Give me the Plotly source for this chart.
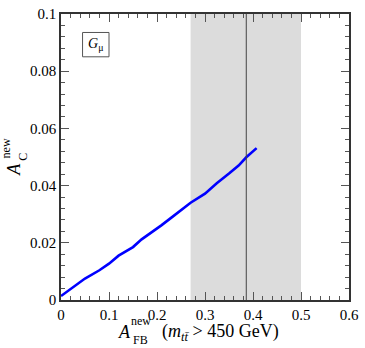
import plotly.graph_objects as go

# curve
afb_new = [0.0, 0.01, 0.03, 0.05, 0.08, 0.10, 0.12, 0.15, 0.168, 0.19, 0.209,
           0.23, 0.25, 0.27, 0.30, 0.3245, 0.35, 0.37, 0.386, 0.40, 0.4075]
ac_new = [0.0014, 0.0026, 0.0050, 0.0075, 0.0104, 0.0127, 0.0155, 0.0185, 0.0212,
          0.0237, 0.0261, 0.0288, 0.0313, 0.0340, 0.0372, 0.0408, 0.0442, 0.0470,
          0.0499, 0.0520, 0.0531]

band = [0.27, 0.50]      # shaded measurement band
central = 0.386          # measured central value

SERIF = "Liberation Serif"

L, R, T, B = 61, 10, 6, 48
W, H = 365, 348
PW, PH = W - L - R, H - T - B


def px(x, y):
    # pixel position -> paper coords
    return (x - L) / PW, (T + PH - y) / PH


fig = go.Figure()
fig.add_trace(go.Scatter(
    x=afb_new, y=ac_new, mode="lines",
    line=dict(color="#0000ff", width=2.6),
    showlegend=False, hoverinfo="skip",
))

fig.add_shape(type="rect", xref="x", yref="paper", x0=band[0], x1=band[1],
              y0=0, y1=1, fillcolor="#dcdcdc", line_width=0, layer="below")
fig.add_shape(type="line", xref="x", yref="paper", x0=central, x1=central,
              y0=0, y1=1, line=dict(color="#444444", width=1))

# label box
bx0, by0 = px(83, 50)
bx1, by1 = px(110, 25)
fig.add_shape(type="rect", xref="paper", yref="paper", x0=bx0, x1=bx1,
              y0=by0, y1=by1, line=dict(color="#555555", width=1),
              fillcolor="white")

ann = []


def add(text, x, y, size, angle=0, anchor="center"):
    ax, ay = px(x, y)
    ann.append(dict(text=text, x=ax, y=ay, xref="paper", yref="paper",
                    showarrow=False, xanchor=anchor, yanchor="middle",
                    textangle=angle, font=dict(family=SERIF, size=size, color="black")))


add("<i>G</i><sub>μ</sub>", 96.5, 37.5, 14)

# x title
add("<i>A</i>", 126, 333, 18)
add("new", 143, 322, 12)
add("FB", 142, 341, 12)
add("(<i>m</i><sub><i>tt̄</i></sub> > 450 GeV)", 162, 333, 18, anchor="left")

# y title
add("<i>A</i>", 13, 165, 18, angle=-90)
add("new", 5, 144, 12, angle=-90)
add("C", 22, 153, 12, angle=-90)

axis = dict(
    showgrid=False, zeroline=False, showline=True, linecolor="#333333",
    linewidth=1.5, mirror="allticks", ticks="inside", ticklen=8,
    tickwidth=1.2, tickcolor="#555555",
    tickfont=dict(family=SERIF, size=15, color="black"),
)

fig.update_xaxes(range=[0, 0.6], dtick=0.1, tick0=0,
                 minor=dict(dtick=0.02, ticks="inside", ticklen=4, tickcolor="#555555"),
                 **axis)
fig.update_yaxes(range=[0, 0.1], dtick=0.02, tick0=0,
                 minor=dict(dtick=0.004, ticks="inside", ticklen=4, tickcolor="#555555"),
                 **axis)

fig.update_layout(
    width=W, height=H,
    margin=dict(l=L, r=R, t=T, b=B),
    paper_bgcolor="white", plot_bgcolor="white",
    annotations=ann,
)

fig.write_html("out.html", config=dict(displayModeBar=False),
               post_script="document.body.style.margin='0';")
